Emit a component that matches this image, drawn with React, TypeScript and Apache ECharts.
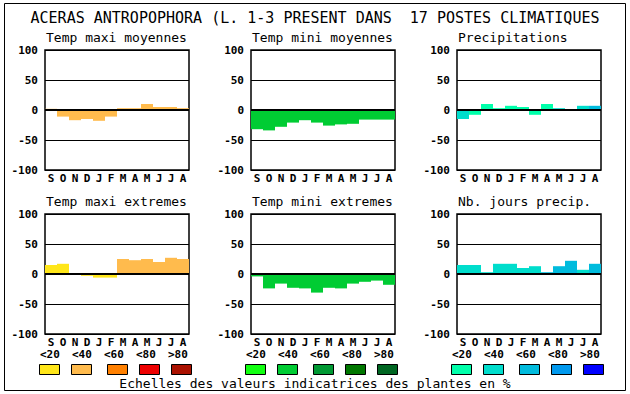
import React, { useEffect, useRef } from "react";
import * as echarts from "echarts";

const MONTHS = ["S", "O", "N", "D", "J", "F", "M", "A", "M", "J", "J", "A"];
const TITLE = "ACERAS ANTROPOPHORA (L. 1-3 PRESENT DANS  17 POSTES CLIMATIQUES";
const CAPTION = "Echelles des valeurs indicatrices des plantes en %";
const CLASS_LABELS = ["<20", "<40", "<60", "<80", ">80"];

const WARM = ["#FFE619", "#FFBB4D", "#FF8000", "#EE0000", "#AA1100"];
const GREEN = ["#11FF11", "#00CC33", "#009933", "#007700", "#006622"];
const BLUE = ["#00FFAA", "#00DDCC", "#00BBDD", "#0099EE", "#0000FF"];

const PANEL_TITLES = [
  "Temp maxi moyennes",
  "Temp mini moyennes",
  "Precipitations",
  "Temp maxi extremes",
  "Temp mini extremes",
  "Nb. jours precip.",
];

const tmaxMoy = [2, -11, -17, -15, -18, -11, 3, 3, 10, 5, 5, 3];
const tmaxMoyCls = [1, 1, 1, 1, 1, 1, 1, 1, 1, 1, 1, 1];
const tminMoy = [-32, -34, -28, -21, -17, -21, -26, -24, -23, -16, -16, -16];
const tminMoyCls = [1, 1, 1, 1, 1, 1, 1, 1, 1, 1, 1, 1];
const precip = [-15, -8, 10, 3, 7, 5, -8, 10, 3, 0, 7, 7];
const precipCls = [1, 0, 0, 0, 0, 0, 0, 0, 1, 0, 1, 2];
const tmaxExt = [15, 17, 0, -3, -6, -6, 25, 23, 25, 20, 27, 25];
const tmaxExtCls = [0, 0, 0, 0, 0, 0, 1, 1, 1, 1, 1, 1];
const tminExt = [-4, -24, -16, -23, -24, -31, -23, -24, -16, -13, -11, -18];
const tminExtCls = [1, 1, 1, 1, 1, 1, 1, 1, 1, 1, 1, 1];
const nbJours = [15, 15, 3, 17, 17, 10, 13, 3, 13, 22, 7, 17];
const nbJoursCls = [1, 1, 1, 1, 1, 1, 1, 2, 2, 2, 1, 2];

const PANELS = [
  { values: tmaxMoy, cls: tmaxMoyCls, palette: WARM },
  { values: tminMoy, cls: tminMoyCls, palette: GREEN },
  { values: precip, cls: precipCls, palette: BLUE },
  { values: tmaxExt, cls: tmaxExtCls, palette: WARM },
  { values: tminExt, cls: tminExtCls, palette: GREEN },
  { values: nbJours, cls: nbJoursCls, palette: BLUE },
];

const MONO = "'DejaVu Sans Mono', monospace";

export default function App() {
  const ref = useRef<HTMLDivElement>(null);
  useEffect(() => {
    document.body.style.margin = "0";
    const chart = echarts.init(ref.current!, null, { renderer: "svg" });
    const colLefts = [45, 251, 457];
    const rowTops = [50, 214];
    const grids: any[] = [];
    const xAxes: any[] = [];
    const yAxes: any[] = [];
    const series: any[] = [];
    const graphics: any[] = [];

    PANELS.forEach((p, i) => {
      const left = colLefts[i % 3];
      const top = rowTops[Math.floor(i / 3)];
      grids.push({
        left,
        top,
        width: 144,
        height: 120,
        show: true,
        borderColor: "#000",
        borderWidth: 1.5,
        backgroundColor: "#fff",
      });
      xAxes.push({
        type: "category",
        gridIndex: i,
        data: MONTHS,
        axisLine: { show: false },
        axisTick: { show: false },
        axisLabel: {
          color: "#000",
          fontFamily: MONO,
          fontWeight: "bold",
          fontSize: 11,
          margin: 3,
          interval: 0,
        },
      });
      yAxes.push({
        type: "value",
        gridIndex: i,
        min: -100,
        max: 100,
        interval: 50,
        axisLine: { show: false },
        axisTick: { show: false },
        splitLine: { lineStyle: { color: "#000", width: 1 } },
        axisLabel: {
          color: "#000",
          fontFamily: MONO,
          fontWeight: "bold",
          fontSize: 11,
          margin: 7,
        },
      });
      series.push({
        type: "bar",
        xAxisIndex: i,
        yAxisIndex: i,
        barWidth: "100%",
        barCategoryGap: 0,
        data: p.values.map((v, k) => ({
          value: v,
          itemStyle: { color: p.palette[p.cls[k]] },
        })),
        markLine: {
          silent: true,
          symbol: "none",
          label: { show: false },
          lineStyle: { color: "#000", width: 2, type: "solid" },
          data: [{ yAxis: 0 }],
        },
      });
      graphics.push({
        type: "text",
        left: left + 1,
        top: top - 19,
        style: {
          text: PANEL_TITLES[i],
          font: `13px ${MONO}`,
          fill: "#000",
        },
      });
    });

    // legends
    const groupBase = [39, 245, 451];
    const sqOff = [0, 32, 68, 100, 132];
    const lblOff = [0, 32, 64, 96, 128];
    const palettes = [WARM, GREEN, BLUE];
    palettes.forEach((pal, g) => {
      pal.forEach((c, k) => {
        graphics.push({
          type: "rect",
          shape: { x: groupBase[g] + sqOff[k] + 0.5, y: 364.5, width: 20, height: 10 },
          style: { fill: c, stroke: "#000", lineWidth: 1 },
        });
        graphics.push({
          type: "text",
          x: groupBase[g] + lblOff[k] + 1,
          y: 354,
          style: {
            text: CLASS_LABELS[k],
            font: `bold 11px ${MONO}`,
            fill: "#000",
            textVerticalAlign: "middle",
            verticalAlign: "middle",
          },
        });
      });
    });

    graphics.push({
      type: "text",
      x: 315,
      y: 383,
      style: {
        text: CAPTION,
        font: `13px ${MONO}`,
        fill: "#000",
        align: "center",
        verticalAlign: "middle",
      },
    });
    graphics.push({
      type: "text",
      x: 315,
      y: 18,
      style: {
        text: TITLE,
        font: `15px ${MONO}`,
        fill: "#000",
        align: "center",
        verticalAlign: "middle",
      },
    });
    graphics.push({
      type: "rect",
      z: -1,
      shape: { x: 4.5, y: 3.5, width: 621, height: 387 },
      style: { fill: "none", stroke: "#000", lineWidth: 1 },
    });

    chart.setOption({
      animation: false,
      backgroundColor: "#fff",
      grid: grids,
      xAxis: xAxes,
      yAxis: yAxes,
      series,
      graphic: graphics,
    });
    return () => chart.dispose();
  }, []);
  return <div ref={ref} style={{ width: 630, height: 394 }} />;
}
